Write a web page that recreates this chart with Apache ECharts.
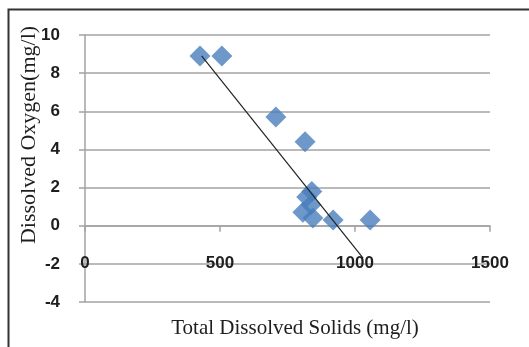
<!DOCTYPE html>
<html>
<head>
<meta charset="utf-8">
<script src="https://cdn.jsdelivr.net/npm/echarts@6/dist/echarts.min.js"></script>
<style>
  html, body { margin: 0; padding: 0; background: #fff; }
  #chart { width: 529px; height: 347px; }
</style>
</head>
<body>
<div id="chart"></div>
<script>
// measured points: total dissolved solids (mg/l) vs dissolved oxygen (mg/l)
var tds = [426, 507, 707, 815, 840, 821, 837, 807, 844, 919, 1056];
var dox = [8.9, 8.9, 5.7, 4.4, 1.8, 1.5, 1.1, 0.7, 0.4, 0.3, 0.3];
// linear trend line end points
var trendX = [432, 1030];
var trendY = [8.9, -1.7];
var xTicks = [0, 1500, 500];   // min, max, step
var yTicks = [-4, 10, 2];

var points = tds.map(function (x, i) { return [x, dox[i]]; });
var trend = trendX.map(function (x, i) { return [x, trendY[i]]; });

var gridColor = "#a3a3a3";
var tickFont = { color: "#1e1e1e", fontFamily: "Liberation Sans", fontSize: 17, fontWeight: "bold" };

var myChart = echarts.init(document.getElementById("chart"));
var option = {
  animation: false,
  grid: { left: 85, right: 39, top: 35, bottom: 45, containLabel: false },
  xAxis: {
    type: "value",
    min: xTicks[0],
    max: xTicks[1],
    interval: xTicks[2],
    axisLine: { onZero: true, lineStyle: { color: gridColor, width: 1.5 } },
    axisTick: { show: true, length: 6, lineStyle: { color: gridColor, width: 1.5 } },
    axisLabel: Object.assign({
      margin: -47,
      formatter: function (v) { return String(v); },
    }, tickFont),
    splitLine: { show: false },
  },
  yAxis: {
    type: "value",
    min: yTicks[0],
    max: yTicks[1],
    interval: yTicks[2],
    axisLine: { show: true, lineStyle: { color: gridColor, width: 1.5 } },
    axisTick: { show: true, length: 6, lineStyle: { color: gridColor, width: 1.5 } },
    axisLabel: Object.assign({ margin: 25 }, tickFont),
    splitLine: { show: true, lineStyle: { color: gridColor, width: 1.5 } },
  },
  graphic: [
    {
      // outer frame, only top and left edges are visible in the crop
      type: "polyline",
      shape: { points: [[8.5, 347], [8.5, 9.5], [529, 9.5]] },
      style: { fill: null, stroke: "#333", lineWidth: 2 },
      silent: true,
    },
    {
      type: "text",
      x: 295, y: 328,
      style: {
        text: "Total Dissolved Solids (mg/l)",
        font: "21px 'Liberation Serif'",
        fill: "#1e1e1e",
        align: "center",
        verticalAlign: "middle",
      },
    },
    {
      type: "text",
      x: 29, y: 135,
      rotation: Math.PI / 2,
      style: {
        text: "Dissolved Oxygen(mg/l)",
        font: "22px 'Liberation Serif'",
        fill: "#1e1e1e",
        align: "center",
        verticalAlign: "middle",
      },
    },
  ],
  series: [
    {
      type: "scatter",
      data: points,
      symbol: "diamond",
      symbolSize: [21, 21],
      itemStyle: { color: "#4A7EBB" },
      z: 2,
    },
    {
      type: "line",
      data: trend,
      symbol: "none",
      lineStyle: { color: "#222", width: 1.2 },
      z: 3,
    },
  ],
};
myChart.setOption(option);
</script>
</body>
</html>
